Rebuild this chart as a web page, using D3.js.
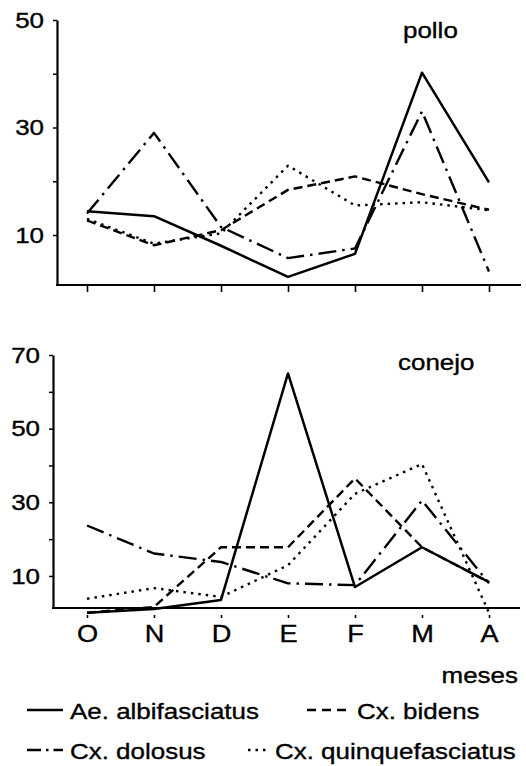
<!DOCTYPE html>
<html>
<head>
<meta charset="utf-8">
<script src="https://cdn.jsdelivr.net/npm/d3@7"></script>
<style>
  body{margin:0;background:#fff;}
  text{font-family:"Liberation Sans",Arial,sans-serif;fill:#000;}
</style>
</head>
<body>
<div class="canvas"></div>
<script>
// months on the x axis
const months=['O','N','D','E','F','M','A'];
const species=['Ae. albifasciatus','Cx. bidens','Cx. dolosus','Cx. quinquefasciatus'];

// pollo (top panel)
const polloAlbifasciatus=[14.4,13.5,8,2.2,6.5,40.2,19.8];
const polloBidens=[12.7,8.1,10.9,18.4,20.9,17.6,14.7];
const polloDolosus=[14,29,11.5,5.7,7.5,33,3.2];
const polloQuinque=[13,8.4,10.3,22.9,15.5,16.1,14.6];

// conejo (bottom panel)
const conejoAlbifasciatus=[0,1,3.5,65,7,17.8,8.3];
const conejoBidens=[0,1.6,17.8,17.8,36.5,17.8,8.3];
const conejoDolosus=[23.7,16.1,13.8,8,7.5,30.5,8];
const conejoQuinque=[3.8,6.7,4.3,12.9,32.3,40.4,0];

// y ticks
const polloTicks=[10,20,30,40,50];
const polloLabels=[10,30,50];
const conejoTicks=[10,20,30,40,50,60,70];
const conejoLabels=[10,30,50,70];

const dashes=[null,'9,5','18,6,2.5,6','2.5,5'];  //solid, dashed, dash-dot, dotted
const widths=[2.5,2.4,2.4,2.4];
const SX=1.18; //text in the scan is a bit stretched sideways

const svg=d3.select('.canvas')
    .append('svg')
      .attr('width',526)
      .attr('height',766);
svg.append('rect').attr('width',526).attr('height',766).attr('fill','#fff');

const x=d3.scalePoint()
    .domain(months)
    .range([87,489]);

const label=(txt,px,py,size,anchor)=>{
  svg.append('text')
    .attr('transform',`translate(${px},${py}) scale(${SX},1)`)
    .attr('font-size',size)
    .attr('text-anchor',anchor||'start')
    .attr('stroke','#000').attr('stroke-width',0.35)
    .text(txt);
};

const drawPanel=(y,x0,x1,ticks,labels,series,showMonths)=>{
  const base=y.range()[0];
  const g=svg.append('g');

  //y axis
  const yAxis=d3.axisLeft(y)
      .tickValues(ticks)
      .tickSize(4)
      .tickSizeOuter(0)
      .tickFormat(d=>labels.includes(d)?d:'');
  const yg=g.append('g')
      .attr('transform',`translate(${x0},0)`)
      .call(yAxis);
  yg.select('.domain').attr('stroke-width',2.2);
  yg.selectAll('.tick line').attr('stroke-width',1.5);
  yg.selectAll('text')
      .attr('font-size',22)
      .attr('font-family','"Liberation Sans",Arial,sans-serif')
      .attr('x',-11)
      .attr('stroke','#000').attr('stroke-width',0.35)
      .attr('transform',`scale(${SX},1)`);

  //x axis
  const xAxis=d3.axisBottom(x)
      .tickSize(showMonths?10:7)
      .tickSizeOuter(0)
      .tickFormat(d=>showMonths?d:'');
  const xg=g.append('g')
      .attr('transform',`translate(0,${base})`)
      .call(xAxis);
  xg.select('.domain').remove();
  xg.append('line')
      .attr('x1',x0-1).attr('x2',x1)
      .attr('stroke','#000').attr('stroke-width',2.2);
  xg.selectAll('.tick line').attr('stroke-width',1.6);
  if(showMonths){
    xg.selectAll('.tick line').attr('y1',7);
    xg.selectAll('text')
        .attr('font-size',23)
        .attr('font-family','"Liberation Sans",Arial,sans-serif')
        .attr('y',34).attr('dy',0)
        .attr('stroke','#000').attr('stroke-width',0.35)
        .attr('transform',`scale(${SX},1)`);
  }

  //lines
  const line=d3.line()
      .x((d,i)=>x(months[i]))
      .y(d=>y(d));
  g.selectAll('path.serie')
      .data(series)
      .enter()
      .append('path')
        .attr('class','serie')
        .attr('d',d=>line(d))
        .attr('fill','none')
        .attr('stroke','#000')
        .attr('stroke-width',(d,i)=>widths[i])
        .attr('stroke-dasharray',(d,i)=>dashes[i])
        .attr('stroke-linejoin','round');
};

const yTop=d3.scaleLinear().domain([0.7,50]).range([285,20]);
const yBot=d3.scaleLinear().domain([1.3,70]).range([608,355]);

drawPanel(yTop,57,521,polloTicks,polloLabels,
  [polloAlbifasciatus,polloBidens,polloDolosus,polloQuinque],false);
drawPanel(yBot,53,520,conejoTicks,conejoLabels,
  [conejoAlbifasciatus,conejoBidens,conejoDolosus,conejoQuinque],true);

label('pollo',403,38,22);
label('conejo',398,370,22);
label('meses',518,683,22,'end');

//legend
const legendPos=[
  {sx:27,ex:63,ty:719,tx:70},
  {sx:307,ex:347,ty:719,tx:357},
  {sx:27,ex:63,ty:759,tx:70},
  {sx:248,ex:270,ty:759,tx:275}
];
species.forEach((s,i)=>{
  const p=legendPos[i];
  svg.append('line')
      .attr('x1',p.sx).attr('x2',p.ex)
      .attr('y1',p.ty-9).attr('y2',p.ty-9)
      .attr('stroke','#000')
      .attr('stroke-width',widths[i])
      .attr('stroke-dasharray',i==1?'9,6':(i==2?'14,5,2.5,5':dashes[i]));
  label(s,p.tx,p.ty,22);
});
</script>
</body>
</html>
